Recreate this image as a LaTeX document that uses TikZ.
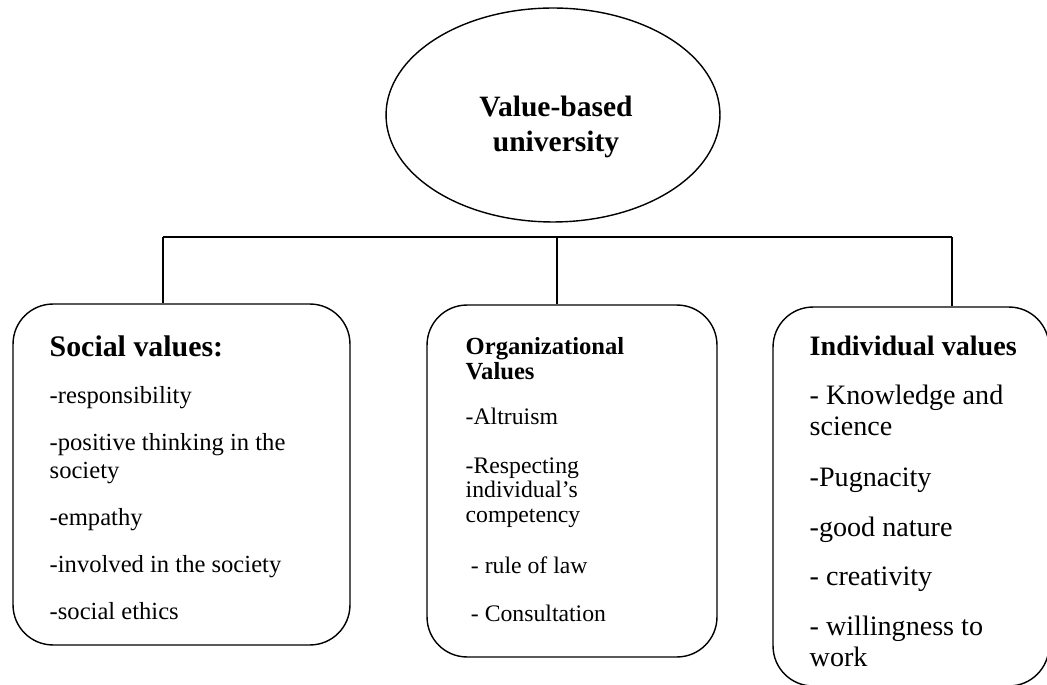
\documentclass[tikz,border=0pt]{standalone}
\usepackage{fontspec}
\setmainfont{Liberation Serif}
\usepackage{tikz}
\usetikzlibrary{shapes.geometric,positioning}

\tikzset{
  valbox/.style={draw, rounded corners=0.8cm},
  valtext/.style={anchor=north west, inner sep=0pt, align=left},
}

\begin{document}
\begin{tikzpicture}[x=0.02cm, y=-0.02cm, line width=0.8pt]
\useasboundingbox (0,0) rectangle (1047,685);

% top of the tree
\node[draw, ellipse, minimum width=6.68cm, minimum height=4.28cm] (uni) at (553,115) {};
\node[anchor=north, inner sep=0pt, align=center, font=\bfseries\fontsize{16.8}{20}\selectfont]
  (unitxt) at (556,95) {Value-based\\university};

% the three groups of values
\node[valbox, minimum width=6.74cm, minimum height=6.82cm] (social) at (181.5,474.5) {};
\node[valbox, minimum width=5.8cm, minimum height=7.04cm] (org) at (572,481) {};
\node[valbox, minimum width=5.52cm, minimum height=7.58cm] (indiv) at (911,496.5) {};

% branches
\coordinate (jl) at (163,237);
\coordinate (jm) at (557,237);
\coordinate (jr) at (952,237);
\draw (jl) -- (jr);
\draw (jl) -- (jl |- social.north);
\draw (jm) -- (jm |- org.north);
\draw (jr) -- (jr |- indiv.north);

\node[valtext, font=\fontsize{14}{15.4}\selectfont] (socialtxt) at (49,335) {%
  {\bfseries\fontsize{17}{19}\selectfont Social values:}\\[11.5pt]
  -responsibility\\[11.5pt]
  -positive thinking in the\\
  society\\[11.5pt]
  -empathy\\[11.5pt]
  -involved in the society\\[11.5pt]
  -social ethics};

\node[valtext, font=\fontsize{13.5}{14.2}\selectfont] (orgtxt) at (465,337) {%
  {\bfseries\fontsize{14}{14.2}\selectfont Organizational}\\
  {\bfseries\fontsize{14}{14.2}\selectfont Values}\\[11.2pt]
  -Altruism\\[13.5pt]
  -Respecting\\
  individual's\\
  competency\\[14.5pt]
  \hspace*{3pt}- rule of law\\[13pt]
  \hspace*{3pt}- Consultation};

\node[valtext, font=\fontsize{16}{17.5}\selectfont] (indivtxt) at (809,335) {%
  \textbf{Individual values}\\[10.8pt]
  - Knowledge and\\
  science\\[11.3pt]
  -Pugnacity\\[10.8pt]
  -good nature\\[10.8pt]
  - creativity\\[10.8pt]
  - willingness to\\
  work};
\end{tikzpicture}
\end{document}
